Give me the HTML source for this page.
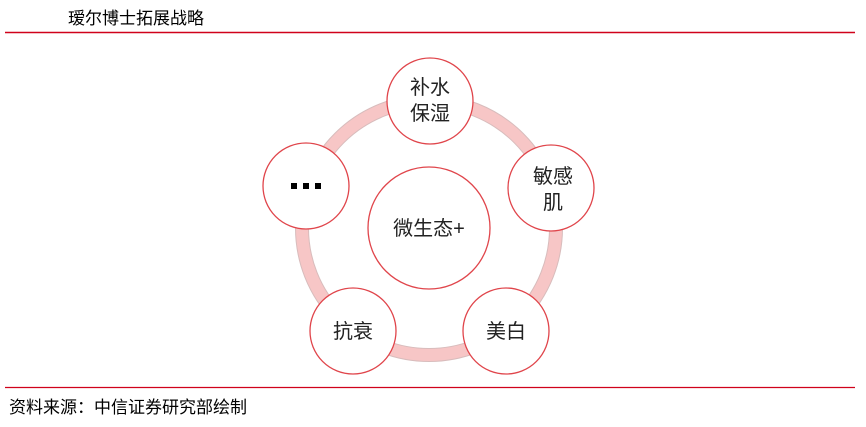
<!DOCTYPE html>
<html><head><meta charset="utf-8"><style>
body{margin:0;width:866px;height:422px;background:#fff;overflow:hidden;font-family:"Liberation Sans","Noto Sans CJK SC",sans-serif;}
</style></head><body>
<svg width="866" height="422" viewBox="0 0 866 422" xmlns="http://www.w3.org/2000/svg" font-family="Liberation Sans, Noto Sans CJK SC, sans-serif">
<text x="68" y="24" font-size="17" fill="#000">瑷尔博士拓展战略</text>
<line x1="5" y1="32.5" x2="855" y2="32.5" stroke="#d0021b" stroke-width="1.5"/>
<circle cx="429" cy="228" r="127" fill="none" stroke="#d8bcbc" stroke-width="14"/>
<circle cx="429" cy="228" r="127" fill="none" stroke="#f7c6c6" stroke-width="12"/>
<g fill="#fff" stroke="#e0454b" stroke-width="1.3">
<circle cx="429" cy="228" r="61"/>
<circle cx="430" cy="101" r="43"/>
<circle cx="551" cy="188" r="43"/>
<circle cx="506" cy="331" r="43"/>
<circle cx="353" cy="331" r="43"/>
<circle cx="306" cy="186" r="43"/>
</g>
<g font-size="20" fill="#222" text-anchor="middle">
<text x="430" y="94">补水</text>
<text x="430" y="120">保湿</text>
<text x="553" y="183">敏感</text>
<text x="553" y="209">肌</text>
<text x="506" y="338">美白</text>
<text x="353" y="338">抗衰</text>
<text x="429" y="235">微生态+</text>
</g>
<g fill="#000"><rect x="291" y="183" width="6" height="6"/><rect x="303" y="183" width="6" height="6"/><rect x="315" y="183" width="6" height="6"/></g>
<line x1="5" y1="387.5" x2="855" y2="387.5" stroke="#d0021b" stroke-width="1.2"/>
<text x="9" y="413" font-size="17" fill="#000">资料来源：中信证券研究部绘制</text>
</svg>
</body></html>
